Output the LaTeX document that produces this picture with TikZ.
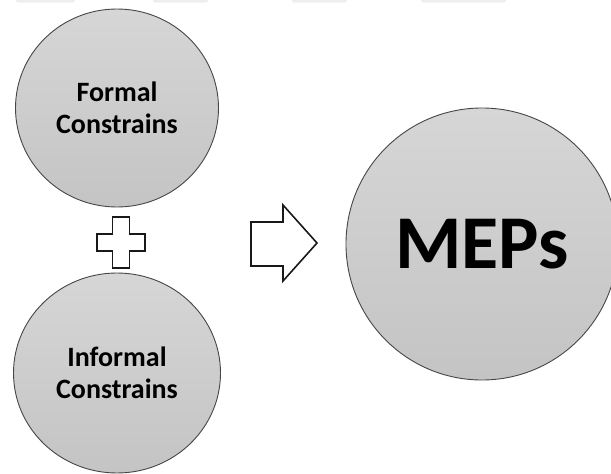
\documentclass[tikz,border=0pt]{standalone}
\usepackage{fontspec}
\setmainfont{Carlito}
\usetikzlibrary{shapes.geometric}
\definecolor{circtop}{RGB}{214,214,214}
\definecolor{circbot}{RGB}{196,196,196}
\definecolor{circline}{RGB}{70,70,70}
\definecolor{faintbar}{RGB}{238,238,238}
\begin{document}
\begin{tikzpicture}[x=1pt,y=-1pt,
  blob/.style={ellipse, draw=circline, line width=0.9pt, top color=circtop, bottom color=circbot, inner sep=0pt, align=center, font=\bfseries},
  outlineshape/.style={draw=black!90, line width=1.6pt, fill=white, line join=miter},
  topbar/.style={fill=faintbar, rounded corners=2pt}]
\useasboundingbox (0,0) rectangle (611,474);
% faint bars at the top edge
\fill[topbar] (16,-5) rectangle (75,2.5);
\fill[topbar] (153,-5) rectangle (208,2.5);
\fill[topbar] (292,-5) rectangle (347,2.5);
\fill[topbar] (421,-5) rectangle (506,2.5);
% circles
\node[blob, minimum width=203pt, minimum height=198pt, font=\bfseries\fontsize{28}{32}\selectfont] (formal) at (117,108) {Formal\\Constrains};
\node[blob, minimum width=207pt, minimum height=200pt, font=\bfseries\fontsize{28}{32}\selectfont] (informal) at (117,373) {Informal\\Constrains};
\node[blob, minimum width=272pt, minimum height=272pt, font=\bfseries\fontsize{76}{80}\selectfont] (meps) at (482,244) {MEPs};
% plus sign
\begin{scope}[shift={(121,242.5)}]
\draw[outlineshape] (-8.5,-25.5) -- (8.5,-25.5) -- (8.5,-8.5) -- (24,-8.5) -- (24,8.5) -- (8.5,8.5) -- (8.5,25.5) -- (-8.5,25.5) -- (-8.5,8.5) -- (-24,8.5) -- (-24,-8.5) -- (-8.5,-8.5) -- cycle;
\end{scope}
% block arrow
\draw[outlineshape] (251,222) -- (283,222) -- (283,205) -- (317,243) -- (283,281) -- (283,266) -- (251,266) -- cycle;
\end{tikzpicture}
\end{document}
